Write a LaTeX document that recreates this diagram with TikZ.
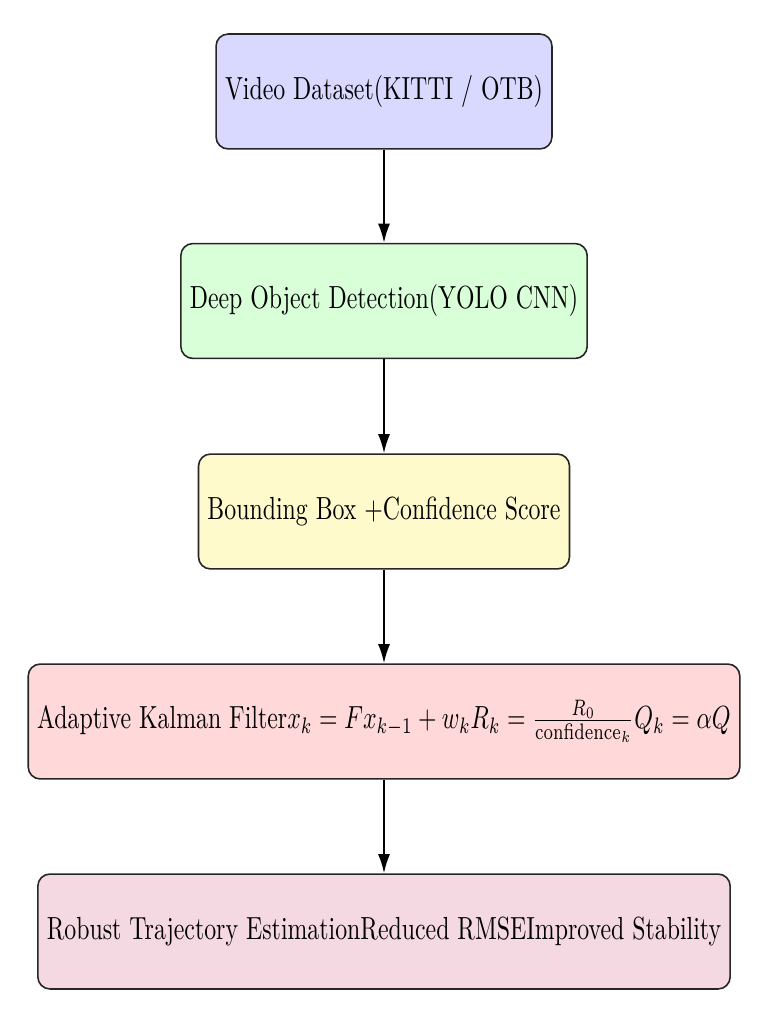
\documentclass[tikz,border=0pt]{standalone}
\usepackage{graphicx}
\usetikzlibrary{arrows.meta}
\newcommand{\sqz}[1]{\scalebox{0.745}[1]{#1}}
\definecolor{cblue}{RGB}{217,217,255}
\definecolor{cgreen}{RGB}{217,255,217}
\definecolor{cyellow}{RGB}{255,250,204}
\definecolor{cred}{RGB}{255,217,217}
\definecolor{cpink}{RGB}{245,217,226}
\tikzset{
  flowbox/.style={draw=black!85, line width=0.5pt, rounded corners=3.75pt,
    minimum height=35.9pt, inner xsep=2.8pt, inner ysep=0pt, align=center,
    font=\fontsize{10}{12}\selectfont},
  flowarrow/.style={-{Latex[length=6pt,width=3.8pt]}, line width=0.6pt, black}
}
\begin{document}
\begin{tikzpicture}[x=0.3125pt,y=-0.3125pt]
\useasboundingbox (0,0) rectangle (768,1024);
\node[flowbox, fill=cblue]   (n1) at (384,91.5)  {\sqz{Video Dataset(KITTI / OTB)}};
\node[flowbox, fill=cgreen]  (n2) at (384,301)   {\sqz{Deep Object Detection(YOLO CNN)}};
\node[flowbox, fill=cyellow] (n3) at (384,511.5) {\sqz{Bounding Box +Confidence Score}};
\node[flowbox, fill=cred]    (n4) at (384,721.5) {\sqz{Adaptive Kalman Filter$x_k = Fx_{k-1} + w_k R_k = \frac{R_0}{\mathrm{confidence}_k} Q_k = \alpha Q$}};
\node[flowbox, fill=cpink]   (n5) at (384,931.5) {\sqz{Robust Trajectory EstimationReduced RMSEImproved Stability}};
\draw[flowarrow] (n1) -- (n2);
\draw[flowarrow] (n2) -- (n3);
\draw[flowarrow] (n3) -- (n4);
\draw[flowarrow] (n4) -- (n5);
\end{tikzpicture}
\end{document}
